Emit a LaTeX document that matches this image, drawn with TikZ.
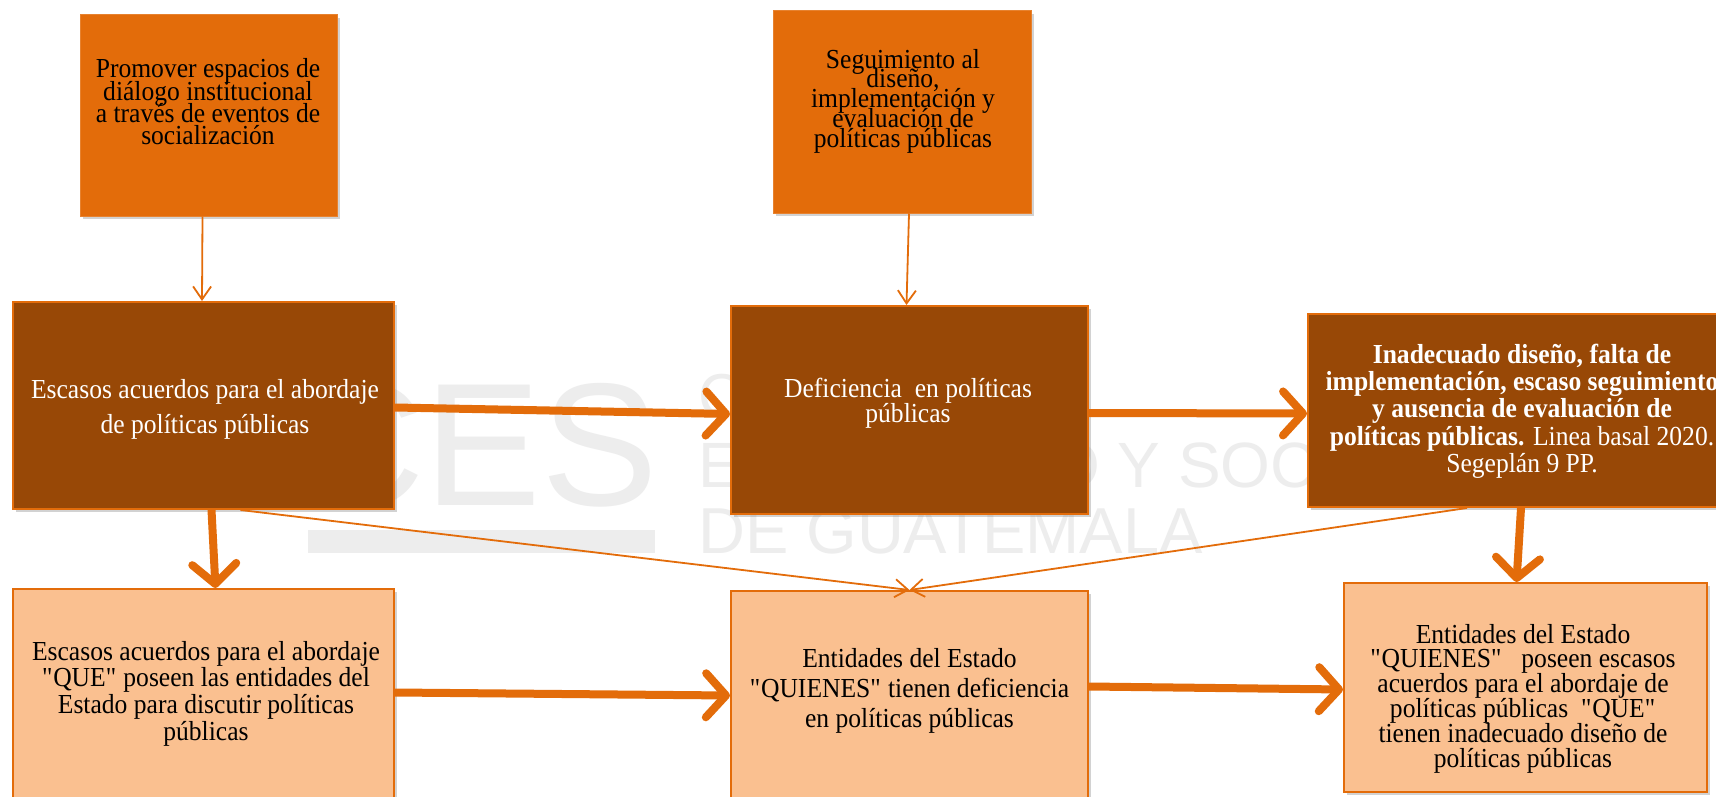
\documentclass[tikz,border=0pt]{standalone}
\usepackage{fontspec}
\setmainfont{Liberation Serif}[FakeStretch=0.93]
\newfontfamily\wmfont{Liberation Sans}
\usetikzlibrary{arrows.meta,shadows}
\definecolor{orangeA}{HTML}{E36C0A}
\definecolor{brownB}{HTML}{984806}
\definecolor{peachC}{HTML}{FAC090}
\definecolor{wmgray}{HTML}{EDEDED}
\newcommand{\qd}{\textquotedbl{}}
\newcommand{\tightlines}{\lineskiplimit=-100pt\relax}
\tikzset{
  shbox/.style={rectangle, inner sep=0pt, drop shadow={opacity=0.35, shadow xshift=3pt, shadow yshift=-3pt}},
  topbox/.style={shbox, fill=orangeA, draw=orangeA!85!white, line width=1pt},
  brownbox/.style={shbox, fill=brownB, draw=orangeA, line width=2pt},
  peachbox/.style={shbox, fill=peachC, draw=orangeA, line width=2pt},
  txt/.style={align=center, inner sep=0pt, text=black},
  wtxt/.style={align=center, inner sep=0pt, text=white},
  wm/.style={inner sep=0pt, text=wmgray, anchor=base west},
  thickarr/.style={draw=orangeA, line width=8pt, -{Straight Barb[length=20pt,width=44pt,round]}},
  thinarr/.style={draw=orangeA, line width=1.8pt, -{Straight Barb[length=13pt,width=18pt]}},
}
\begin{document}
\begin{tikzpicture}[x=1pt,y=-1pt]
\clip (0,0) rectangle (1716,797);
\fill[white] (0,0) rectangle (1716,797);
% watermark
\node[wm, font=\wmfont\fontsize{175}{175}\selectfont] (wmces) at (298,505) {CES};
\node[fill=wmgray, inner sep=0pt, minimum width=347pt, minimum height=23pt] (wmbar) at (481.5,541.5) {};
\node[wm, font=\wmfont\fontsize{62}{62}\selectfont] (wm1) at (698,417) {CONSEJO};
\node[wm, font=\wmfont\fontsize{64}{64}\selectfont] (wm2) at (698,487) {ECONÓMICO Y SOCIAL};
\node[wm, font=\wmfont\fontsize{65}{65}\selectfont] (wm3) at (698,553) {DE GUATEMALA};
% boxes
\node[topbox, minimum width=257pt, minimum height=201pt] (t1) at (208.5,115.5) {};
\node[topbox, minimum width=258pt, minimum height=202pt] (t2) at (902,112) {};
\node[brownbox, minimum width=381pt, minimum height=207pt] (b1) at (203.5,405.5) {};
\node[brownbox, minimum width=357pt, minimum height=208pt] (b2) at (909.5,410) {};
\node[brownbox, minimum width=432pt, minimum height=193pt] (b3) at (1524,410.5) {};
\node[peachbox, minimum width=381pt, minimum height=211pt] (l1) at (203.5,694.5) {};
\node[peachbox, minimum width=357pt, minimum height=209pt] (l2) at (909.5,695.5) {};
\node[peachbox, minimum width=363pt, minimum height=209pt] (l3) at (1525.5,687.5) {};
% texts
\node[txt, font=\fontsize{27.5}{22.3}\selectfont\tightlines] (t1t) at (208,102) {Promover espacios de\\diálogo institucional\\a través de eventos de\\socialización};
\node[txt, font=\fontsize{27.5}{19.8}\selectfont\tightlines] (t2t) at (903,101) {Seguimiento al\\diseño,\\implementación y\\evaluación de\\políticas públicas};
\node[wtxt, font=\fontsize{27.5}{35}\selectfont\tightlines] (b1t) at (205,409) {Escasos acuerdos para el abordaje\\de políticas públicas};
\node[wtxt, font=\fontsize{27.5}{25}\selectfont\tightlines] (b2t) at (908,403) {Deficiencia\ \ en políticas\\públicas};
\node[wtxt, font=\fontsize{27.5}{27.3}\selectfont\tightlines] (b3t) at (1522,411) {\textbf{Inadecuado diseño, falta de}\\\textbf{implementación, escaso seguimiento}\\\textbf{y ausencia de evaluación de}\\\textbf{políticas públicas.} Linea basal 2020.\\Segeplán 9 PP.};
\node[txt, font=\fontsize{27.5}{26.7}\selectfont\tightlines] (l1t) at (206,693.5) {Escasos acuerdos para el abordaje\\\qd QUE\qd\ poseen las entidades del\\Estado para discutir políticas\\públicas};
\node[txt, font=\fontsize{27.5}{30}\selectfont\tightlines] (l2t) at (909.5,690.5) {Entidades del Estado\\\qd QUIENES\qd\ tienen deficiencia\\en políticas públicas};
\node[txt, font=\fontsize{27.5}{24.8}\selectfont\tightlines] (l3t) at (1523,698.5) {Entidades del Estado\\\qd QUIENES\qd\ \ \ poseen escasos\\acuerdos para el abordaje de\\políticas públicas\ \ \qd QUE\qd\\tienen inadecuado diseño de\\políticas públicas};
% connectors
\draw[thinarr] ([xshift=-6pt]t1.south) -- ([xshift=-1.5pt]b1.north);
\draw[thinarr] ([xshift=7pt]t2.south) -- ([xshift=-3pt]b2.north);
\draw[thickarr] ([yshift=-2pt]b1.east) -- ([yshift=-4pt]b2.west);
\draw[thickarr] ([yshift=-3pt]b2.east) -- ([yshift=-3pt]b3.west);
\draw[thickarr] ([xshift=8pt]b1.south) -- ([xshift=12pt]l1.north);
\draw[thickarr] ([xshift=-3pt]b3.south) -- ([xshift=-9pt]l3.north);
\draw[thinarr] ([xshift=37pt]b1.south) -- (l2.north);
\draw[thinarr] ([xshift=-57pt]b3.south) -- (l2.north);
\draw[thickarr] ([yshift=2pt]l1.east) -- ([yshift=0pt]l2.west);
\draw[thickarr] ([yshift=9pt]l2.east) -- ([yshift=-2pt]l3.west);
\end{tikzpicture}
\end{document}
